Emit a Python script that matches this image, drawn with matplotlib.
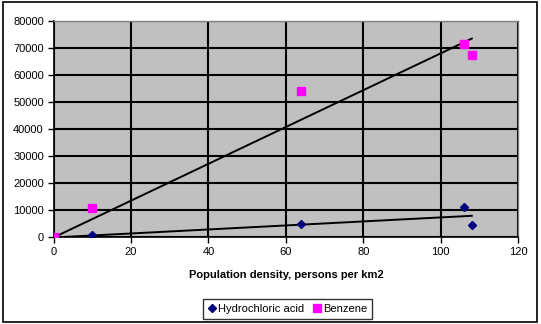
import matplotlib
matplotlib.use("Agg")
import matplotlib.pyplot as plt
import numpy as np
from matplotlib.patches import Rectangle

plt.rcParams['font.family'] = ['Liberation Sans', 'DejaVu Sans']

density = np.array([0, 10, 64, 106, 108])
hcl = np.array([0, 750, 5100, 11300, 4450])
benzene = np.array([0, 11000, 54200, 71500, 67500])


def trend_through_origin(x, y):
    # linear trendline with intercept fixed at zero
    return np.sum(x * y) / np.sum(x * x)


fig = plt.figure(figsize=(5.41, 3.24), dpi=100)
ax = fig.add_axes([0.099, 0.267, 0.859, 0.668])
ax.set_facecolor('#C0C0C0')

xs = np.array([density.min(), density.max()])
ax.plot(xs, trend_through_origin(density, benzene) * xs, color='black', lw=1.4, zorder=3)
ax.plot(xs, trend_through_origin(density, hcl) * xs, color='black', lw=1.4, zorder=3)

ax.plot(density, hcl, linestyle='none', marker='D', ms=3.8, color='#000080',
        label='Hydrochloric acid', zorder=4)
ax.plot(density, benzene, linestyle='none', marker='s', ms=5.5, color='#FF00FF',
        label='Benzene', zorder=4)

ax.set_xlim(0, 120)
ax.set_ylim(0, 80000)
ax.set_xticks(np.arange(0, 121, 20))
ax.set_yticks(np.arange(0, 80001, 10000))
ax.grid(True, color='black', lw=1.5)
ax.set_axisbelow(True)
ax.tick_params(labelsize=8, length=4, width=1, direction='out', pad=3)
for s in ['left', 'bottom']:
    ax.spines[s].set_color('black')
    ax.spines[s].set_linewidth(1.2)
for s in ['right', 'top']:
    ax.spines[s].set_color('#808080')
    ax.spines[s].set_linewidth(1)

ax.set_xlabel('Population density, persons per km2', fontsize=8, fontweight='bold', labelpad=9)

leg = fig.legend(loc='center', bbox_to_anchor=(0.532, 0.046), ncol=2, fontsize=8,
                 frameon=True, fancybox=False, edgecolor='black', handlelength=0.6,
                 handletextpad=0.3, columnspacing=0.8, borderpad=0.45)
leg.get_frame().set_linewidth(1)

fig.patches.append(Rectangle((0.005, 0.006), 0.988, 0.988, transform=fig.transFigure,
                             fill=False, edgecolor='black', lw=1.2))

fig.savefig('out.png', dpi=100)
